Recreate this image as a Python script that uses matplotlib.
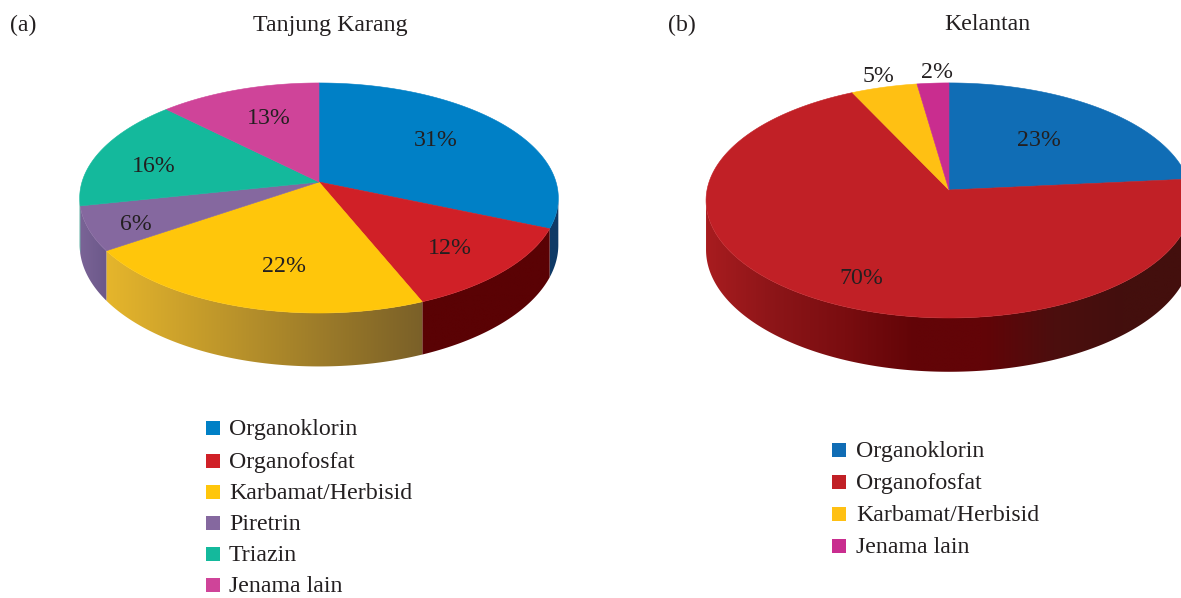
import matplotlib
matplotlib.use('Agg')
import matplotlib.pyplot as plt
import numpy as np
from matplotlib.colors import to_rgb
from matplotlib.patches import Polygon

plt.rcParams['font.family'] = ['Liberation Serif', 'DejaVu Serif']

# (a) Tanjung Karang
names_a = ['Organoklorin', 'Organofosfat', 'Karbamat/Herbisid', 'Piretrin', 'Triazin', 'Jenama lain']
values_a = [31.4, 12.4, 21.7, 6.2, 15.8, 12.5]
labels_a = ['31%', '12%', '22%', '6%', '16%', '13%']
colors_a = ['#0080c6', '#d02027', '#ffc60b', '#85689f', '#14b99c', '#cf4499']

# (b) Kelantan
names_b = ['Organoklorin', 'Organofosfat', 'Karbamat/Herbisid', 'Jenama lain']
values_b = [23.5, 69.4, 4.8, 2.3]
labels_b = ['23%', '70%', '5%', '2%']
colors_b = ['#106db5', '#c12026', '#ffc013', '#c92d8f']

TXT = '#231f20'
FS = 17.2

# wall shading per slice: colour stops from the slice's left end to its right end
walls_a = [['#0f3a66', '#0f3a66'], ['#5a0204', '#5a0204'], ['#e6b62c', '#7a6028'],
           ['#7b6497', '#6b5889'], ['#0d8a75', '#0d8a75'], ['#8f2f6a', '#8f2f6a']]
walls_b = [['#0a4a7a', '#0a4a7a'],
           ['#a81c1f', '#8c1518', '#7a0d10', '#620407', '#620407', '#4c0e0e', '#430f0d', '#430f0d'],
           ['#b08a10', '#b08a10'], ['#8a2066', '#8a2066']]


def project(theta, cx, cy, a, b, k):
    u = np.sin(theta)
    v = -np.cos(theta)
    den = 1 - k * v
    return cx + b * u / den, cy + a * v / den, den


def draw_pie(ax, values, colors, walls, cx, cy, a, b, k, d):
    edges = np.cumsum([0] + values) / sum(values) * 2 * np.pi
    # where the rim turns over: only the part between these two is in front
    circle = np.linspace(0, 2 * np.pi, 4000)
    cx_all = project(circle, cx, cy, a, b, k)[0]
    th_r, th_l = circle[np.argmax(cx_all)], circle[np.argmin(cx_all)]
    for i in range(len(values)):
        start, end = max(edges[i], th_r), min(edges[i + 1], th_l)
        if end <= start:
            continue
        th = np.linspace(start, end, 300)
        x, y, den = project(th, cx, cy, a, b, k)
        lo = y + d / den
        stops = np.array([to_rgb(c) for c in walls[i]])
        pos = np.linspace(0, 1, len(stops))
        t = np.linspace(0, 1, 256)
        grad = np.stack([np.interp(t, pos, stops[:, n]) for n in range(3)], axis=1)[None, :, :]
        im = ax.imshow(grad, extent=(x.min() - 1, x.max() + 1, lo.max() + 2, y.min() - 2),
                       aspect='auto', interpolation='bilinear', zorder=2)
        clip = Polygon(list(zip(x, y)) + list(zip(x[::-1], lo[::-1])), closed=True,
                       transform=ax.transData)
        im.set_clip_path(clip)
    for i in range(len(values)):
        th = np.linspace(edges[i], edges[i + 1], 200)
        x, y, den = project(th, cx, cy, a, b, k)
        pts = [(cx, cy)] + list(zip(x, y))
        ax.add_patch(Polygon(pts, closed=True, fc=colors[i], ec=colors[i], lw=0.4, zorder=3))


def draw_legend(ax, names, colors, rows, x_box, x_txt):
    for n, c, r in zip(names, colors, rows):
        ax.add_patch(plt.Rectangle((x_box, r - 7), 14, 14, fc=c, ec='none', zorder=3))
        ax.text(x_txt, r + 1.5, n, fontsize=FS, color=TXT, va='center', ha='left')


fig = plt.figure(figsize=(11.81, 5.98), dpi=100)
ax = fig.add_axes([0, 0, 1, 1])

draw_pie(ax, values_a, colors_a, walls_a, 319, 182, 112.8, 237, 0.139, 46)
draw_pie(ax, values_b, colors_b, walls_b, 949, 190, 116.6, 242, 0.089, 49)

ax.set_xlim(0, 1181)
ax.set_ylim(598, 0)
ax.axis('off')

# pie labels
pos_a = [(436, 140), (450, 248), (284, 267), (136, 224), (154, 167), (269, 118)]
pos_b = [(1039, 140), (861, 278), (879, 77), (937, 73)]
for s, p in zip(labels_a, pos_a):
    ax.text(p[0], p[1], s, fontsize=FS, color=TXT, ha='center', va='center', zorder=5)
for s, p in zip(labels_b, pos_b):
    ax.text(p[0], p[1], s, fontsize=FS, color=TXT, ha='center', va='center', zorder=5)

# titles
ax.text(10, 25, '(a)', fontsize=FS, color=TXT, va='center')
ax.text(330, 25, 'Tanjung Karang', fontsize=FS, color=TXT, va='center', ha='center')
ax.text(668, 25, '(b)', fontsize=FS, color=TXT, va='center')
ax.text(987, 25, 'Kelantan', fontsize=FS, color=TXT, va='center', ha='center')

draw_legend(ax, names_a, colors_a, [428, 461, 492, 523, 554, 585], 206, 229)
draw_legend(ax, names_b, colors_b, [450, 482, 514, 546], 832, 856)

fig.savefig('out.png', dpi=100)
